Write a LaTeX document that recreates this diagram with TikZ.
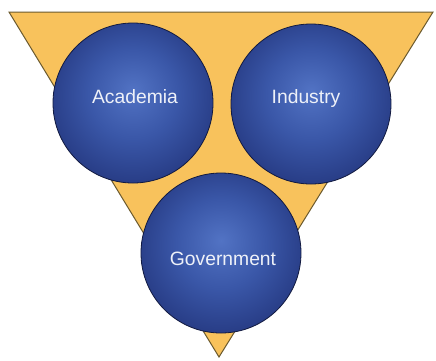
\documentclass[tikz,border=0pt]{standalone}
\usepackage{fontspec}
\setmainfont{Liberation Sans}
\definecolor{triFill}{HTML}{F8C25C}
\definecolor{triLine}{HTML}{6B5A2E}
\definecolor{ballMid}{HTML}{5273C4}
\definecolor{ballIn}{HTML}{3A57A8}
\definecolor{ballOut}{HTML}{1B2A6E}
\definecolor{ballEdge}{HTML}{121A40}
\definecolor{labelCol}{HTML}{EEF1F8}
\pgfdeclareradialshading{ball}{\pgfpoint{0bp}{4bp}}{%
  color(0bp)=(ballMid); color(14bp)=(ballIn); color(36bp)=(ballOut); color(50bp)=(ballOut!85!black)}
\tikzset{
  sphere/.style={circle, minimum size=160pt, inner sep=0pt, shading=ball, draw=ballEdge, line width=0.8pt},
  lbl/.style={text=labelCol, anchor=base, inner sep=0pt, font=\fontsize{19.3}{21}\selectfont},
}
\begin{document}
\begin{tikzpicture}[x=1pt,y=-1pt]
\useasboundingbox (0,0) rectangle (436,360);
\fill[white] (0,0) rectangle (436,360);
\draw[fill=triFill, draw=triLine, line width=1pt, line join=miter] (9,12) -- (433,12) -- (219,357) -- cycle;
\node[sphere] (ac) at (133,103) {};
\node[sphere] (in) at (311,104) {};
\node[sphere] (go) at (221,253) {};
\node[lbl] (acl) at (135,103) {Academia};
\node[lbl] (inl) at (306,103) {Industry};
\node[lbl] (gol) at (223,265) {Government};
\end{tikzpicture}
\end{document}
